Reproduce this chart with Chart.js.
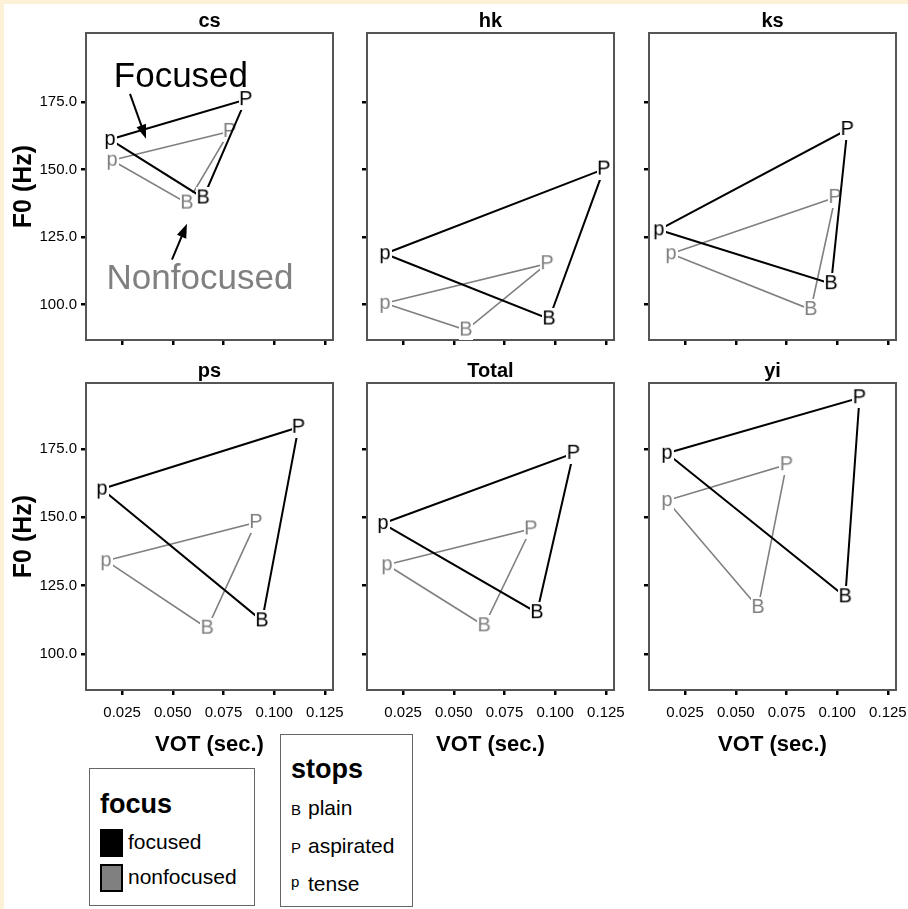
<!DOCTYPE html>
<html>
<head>
<meta charset="utf-8">
<title>F0 by VOT</title>
<script src="https://cdn.jsdelivr.net/npm/chart.js@4.4.0/dist/chart.umd.min.js"></script>
<style>
  body { margin: 0; width: 908px; height: 909px; overflow: hidden; position: relative; background: #fcf1d7; }
  #sheet { position: absolute; left: 4px; top: 4px; right: 0; bottom: 0; background: #fff; }
  canvas.panel { position: absolute; }
  .box { position: absolute; box-sizing: border-box; border: 1.5px solid #666; background: #fff; }
  .box .head { position: absolute; left: 10px; font: bold 27px 'Liberation Sans', Arial, sans-serif; line-height: 30px; }
  .box .row { position: absolute; left: 10px; height: 28px; line-height: 28px; white-space: nowrap;
              font: 21px 'Liberation Sans', Arial, sans-serif; }
  .swatch { display: inline-block; width: 19px; height: 24px; border: 2px solid #000; vertical-align: middle; margin-right: 5px; }
  .sym { display: inline-block; width: 17px; font-size: 15px; vertical-align: middle; }
</style>
</head>
<body>
<div id="sheet"></div>
<script>
const speakers = ['cs', 'hk', 'ks', 'ps', 'Total', 'yi'];
const stopNames = ['plain', 'aspirated', 'tense'];
const stopLetters = ['B', 'P', 'p'];
const focusNames = ['focused', 'nonfocused'];
const focusColors = ['#000000', '#808080'];

// VOT (sec.) and F0 (Hz) per speaker, stops in order plain, aspirated, tense
const votFocused = [
  [0.065, 0.086, 0.019],
  [0.097, 0.124, 0.016],
  [0.097, 0.105, 0.012],
  [0.094, 0.112, 0.015],
  [0.091, 0.109, 0.015],
  [0.104, 0.111, 0.016]
];
const f0Focused = [
  [139.5, 176.0, 161.2],
  [94.6, 150.2, 118.8],
  [107.7, 164.9, 127.7],
  [112.1, 182.9, 160.3],
  [115.1, 173.4, 147.7],
  [120.9, 193.7, 173.4]
];
const votNonfocused = [
  [0.057, 0.078, 0.020],
  [0.056, 0.096, 0.016],
  [0.087, 0.099, 0.018],
  [0.067, 0.091, 0.017],
  [0.065, 0.088, 0.017],
  [0.061, 0.075, 0.016]
];
const f0Nonfocused = [
  [137.6, 164.2, 153.5],
  [90.5, 115.1, 100.4],
  [98.1, 139.7, 118.8],
  [109.4, 148.1, 134.1],
  [110.3, 145.7, 132.6],
  [117.0, 169.2, 156.1]
];

const xTicks = [0.025, 0.050, 0.075, 0.100, 0.125];
const yTicks = [100, 125, 150, 175];

const SANS = "'Liberation Sans', Arial, sans-serif";
Chart.defaults.font.family = SANS;
Chart.defaults.color = '#000';

// panel grid: canvas origins, per-row F0 ceiling
const colLeft = [4, 285, 567];
const rowTop = [0, 350];
const rowMax = [200.7, 199.1];
const AXIS_W = 82, PLOT_W = 247, PLOT_H = 307, TITLE_H = 33, RIGHT_PAD = 30;

// letter markers on a white tile, so the triangle lines stop short of them
function letterTile(ch, color) {
  const c = document.createElement('canvas');
  c.width = 14; c.height = 21;
  const g = c.getContext('2d');
  g.fillStyle = '#fff';
  g.fillRect(0, 0, c.width, c.height);
  g.fillStyle = color;
  g.font = '20px ' + SANS;
  g.textAlign = 'center';
  g.textBaseline = 'middle';
  g.fillText(ch, 7, 10.5);
  return c;
}

const framePlugin = {
  id: 'frame',
  beforeDatasetsDraw(chart) {
    const { ctx, chartArea: a } = chart;
    ctx.save();
    ctx.strokeStyle = '#555';
    ctx.lineWidth = 2;
    ctx.strokeRect(a.left, a.top, a.right - a.left, a.bottom - a.top);
    ctx.restore();
  }
};

// "Focused" / "Nonfocused" callouts on the first panel, placed in data units
const callouts = [
  { text: 'Focused', color: '#000', at: [0.054, 184.4], from: [0.0289, 178.1], to: [0.0368, 161.5] },
  { text: 'Nonfocused', color: '#808080', at: [0.0634, 109.2], from: [0.0496, 116.6], to: [0.0570, 129.9] }
];
const calloutPlugin = {
  id: 'callouts',
  afterDatasetsDraw(chart) {
    const { ctx, scales: { x, y } } = chart;
    ctx.save();
    callouts.forEach(c => {
      ctx.font = '35px ' + SANS;
      ctx.fillStyle = c.color;
      ctx.textAlign = 'center';
      ctx.textBaseline = 'middle';
      ctx.fillText(c.text, x.getPixelForValue(c.at[0]), y.getPixelForValue(c.at[1]));

      const x1 = x.getPixelForValue(c.from[0]), y1 = y.getPixelForValue(c.from[1]);
      const x2 = x.getPixelForValue(c.to[0]), y2 = y.getPixelForValue(c.to[1]);
      const ang = Math.atan2(y2 - y1, x2 - x1);
      ctx.strokeStyle = '#000';
      ctx.fillStyle = '#000';
      ctx.lineWidth = 2;
      ctx.beginPath();
      ctx.moveTo(x1, y1);
      ctx.lineTo(x2 - 8 * Math.cos(ang), y2 - 8 * Math.sin(ang));
      ctx.stroke();
      ctx.beginPath();
      ctx.moveTo(x2, y2);
      ctx.lineTo(x2 - 14 * Math.cos(ang) + 5 * Math.sin(ang), y2 - 14 * Math.sin(ang) - 5 * Math.cos(ang));
      ctx.lineTo(x2 - 14 * Math.cos(ang) - 5 * Math.sin(ang), y2 - 14 * Math.sin(ang) + 5 * Math.cos(ang));
      ctx.closePath();
      ctx.fill();
    });
    ctx.restore();
  }
};

function triangle(vot, f0) {
  // tense -> aspirated -> plain -> tense
  return [2, 1, 0, 2].map(k => ({ x: vot[k], y: f0[k] }));
}

function makePanel(i) {
  const col = i % 3, row = Math.floor(i / 3);
  const bottomRow = row === 1, leftCol = col === 0;
  const xAxisH = bottomRow ? 76 : 10;

  const canvas = document.createElement('canvas');
  canvas.className = 'panel';
  canvas.width = AXIS_W + PLOT_W + RIGHT_PAD;
  canvas.height = TITLE_H + PLOT_H + xAxisH;
  canvas.style.left = colLeft[col] + 'px';
  canvas.style.top = rowTop[row] + 'px';
  document.body.appendChild(canvas);

  const datasets = [[votFocused, f0Focused], [votNonfocused, f0Nonfocused]].map(([vot, f0], f) => ({
    label: focusNames[f],
    data: triangle(vot[i], f0[i]),
    showLine: true,
    borderColor: focusColors[f],
    borderWidth: f === 0 ? 2 : 1.6,
    pointStyle: [2, 1, 0, 2].map(k => letterTile(stopLetters[k], focusColors[f])),
    pointRadius: 5
  }));

  const tickMarks = { drawOnChartArea: false, drawTicks: true, tickLength: 5, color: '#000', lineWidth: 2.5 };

  new Chart(canvas, {
    type: 'scatter',
    data: { datasets },
    plugins: i === 0 ? [framePlugin, calloutPlugin] : [framePlugin],
    options: {
      responsive: false,
      animation: false,
      events: [],
      layout: { padding: { right: RIGHT_PAD } },
      plugins: {
        legend: { display: false },
        tooltip: { enabled: false },
        title: {
          display: true,
          fullSize: false,
          text: speakers[i],
          color: '#000',
          font: { size: 20, weight: 'bold', lineHeight: 1 },
          padding: { top: 11, bottom: 2 }
        }
      },
      scales: {
        x: {
          type: 'linear',
          min: 0.0072,
          max: 0.129,
          afterBuildTicks: s => { s.ticks = xTicks.map(v => ({ value: v })); },
          afterFit: s => { s.height = xAxisH; s.paddingLeft = 0; s.paddingRight = 0; },
          grid: tickMarks,
          border: { display: false },
          ticks: {
            display: bottomRow,
            padding: 9,
            font: { size: 15 },
            maxRotation: 0,
            callback: v => v.toFixed(3)
          },
          title: {
            display: bottomRow,
            text: 'VOT (sec.)',
            font: { size: 22, weight: 'bold' },
            padding: { top: 0, bottom: 8 }
          }
        },
        y: {
          type: 'linear',
          min: 86.8,
          max: rowMax[row],
          afterBuildTicks: s => { s.ticks = yTicks.map(v => ({ value: v })); },
          afterFit: s => { s.width = AXIS_W; s.paddingTop = 0; s.paddingBottom = 0; },
          grid: tickMarks,
          border: { display: false },
          ticks: {
            display: leftCol,
            padding: 4,
            font: { size: 15 },
            callback: v => v.toFixed(1)
          },
          title: {
            display: leftCol,
            text: 'F0 (Hz)',
            font: { size: 25, weight: 'bold' },
            padding: { top: 5, bottom: 0 }
          }
        }
      }
    }
  });
}

speakers.forEach((s, i) => makePanel(i));

// legends under the panels
function legendBox(left, top, width, height, title, titleY, rows) {
  const box = document.createElement('div');
  box.className = 'box';
  Object.assign(box.style, { left: left + 'px', top: top + 'px', width: width + 'px', height: height + 'px' });
  const head = document.createElement('div');
  head.className = 'head';
  head.style.top = (titleY - 15) + 'px';
  head.textContent = title;
  box.appendChild(head);
  rows.forEach(r => {
    const div = document.createElement('div');
    div.className = 'row';
    div.style.top = (r.y - 14) + 'px';
    div.appendChild(r.mark);
    div.appendChild(document.createTextNode(r.text));
    box.appendChild(div);
  });
  document.body.appendChild(box);
}

legendBox(89, 768, 166, 138, 'focus', 35, focusNames.map((name, f) => {
  const sw = document.createElement('span');
  sw.className = 'swatch';
  sw.style.background = focusColors[f];
  return { mark: sw, text: name, y: 74 + f * 35 };
}));

legendBox(280, 734, 133, 173, 'stops', 34, stopNames.map((name, k) => {
  const sym = document.createElement('span');
  sym.className = 'sym';
  sym.textContent = stopLetters[k];
  if (stopLetters[k] === 'p') sym.style.verticalAlign = '4px';
  return { mark: sym, text: name, y: 75 + k * 38 };
}));
</script>
</body>
</html>
